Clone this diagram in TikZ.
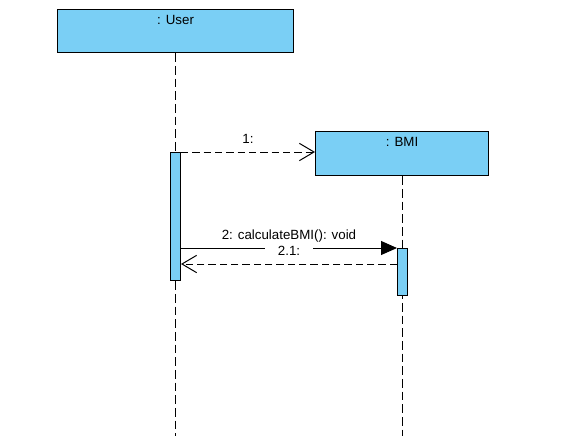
\documentclass[tikz,border=0pt]{standalone}
\usepackage{fontspec}
\setmainfont{Liberation Sans}
\usetikzlibrary{positioning,arrows.meta}
\definecolor{umlblue}{RGB}{122,207,245}

\begin{document}
\begin{tikzpicture}[x=0.75pt,y=-0.75pt,
    font=\fontsize{10}{12}\selectfont,
    lifebox/.style={draw, fill=umlblue, line width=0.9pt, inner sep=0pt, anchor=north west},
    boxlabel/.style={anchor=north, inner sep=0pt, text height=7.2pt, text depth=0pt, yshift=-4.2pt},
    actbox/.style={draw, fill=umlblue, line width=0.75pt, minimum width=7.5pt, inner sep=0pt, anchor=north west},
    lifeline/.style={line width=0.75pt, dash pattern=on 6.5pt off 3pt},
    callmsg/.style={line width=0.75pt, -{Triangle[length=12pt,width=10.5pt]}},
    dashmsg/.style={line width=0.75pt, dash pattern=on 5.5pt off 3pt, -{Straight Barb[length=11pt,width=13pt,line width=0.75pt]}},
    msglabel/.style={midway, above=4pt, inner sep=2pt, text height=7.2pt, text depth=0pt}]

    \useasboundingbox (0,0) rectangle (561,436);

    \node[lifebox, minimum width=177pt, minimum height=32.25pt,
        label={[boxlabel]north:{: User}}] (user) at (57,9) {};
    \node[lifebox, minimum width=129.75pt, minimum height=33pt,
        label={[boxlabel]north:{: BMI}}] (bmi) at (315,131) {};

    \coordinate (userend) at (user.south |- 0,436);
    \coordinate (bmiend) at (bmi.south |- 0,436);
    \draw[lifeline] (user.south) -- (userend);
    \draw[lifeline] (bmi.south) -- (bmiend);

    \node[actbox, minimum height=96pt] (uact) at (170,152) {};
    \node[actbox, minimum height=35.25pt] (bact) at (397,248) {};

    \draw[dashmsg] (uact.north east) -- (bmi.west |- uact.north east) node[msglabel] {1:};
    \draw[callmsg] (uact.east |- bact.north) -- (bact.north west) node[msglabel] {2: calculateBMI(): void};
    \coordinate (ret) at ([yshift=-12pt]bact.north west);
    \draw[dashmsg] (ret) -- (uact.east |- ret) node[msglabel, fill=white, inner xsep=10pt] {2.1:};
\end{tikzpicture}
\end{document}
